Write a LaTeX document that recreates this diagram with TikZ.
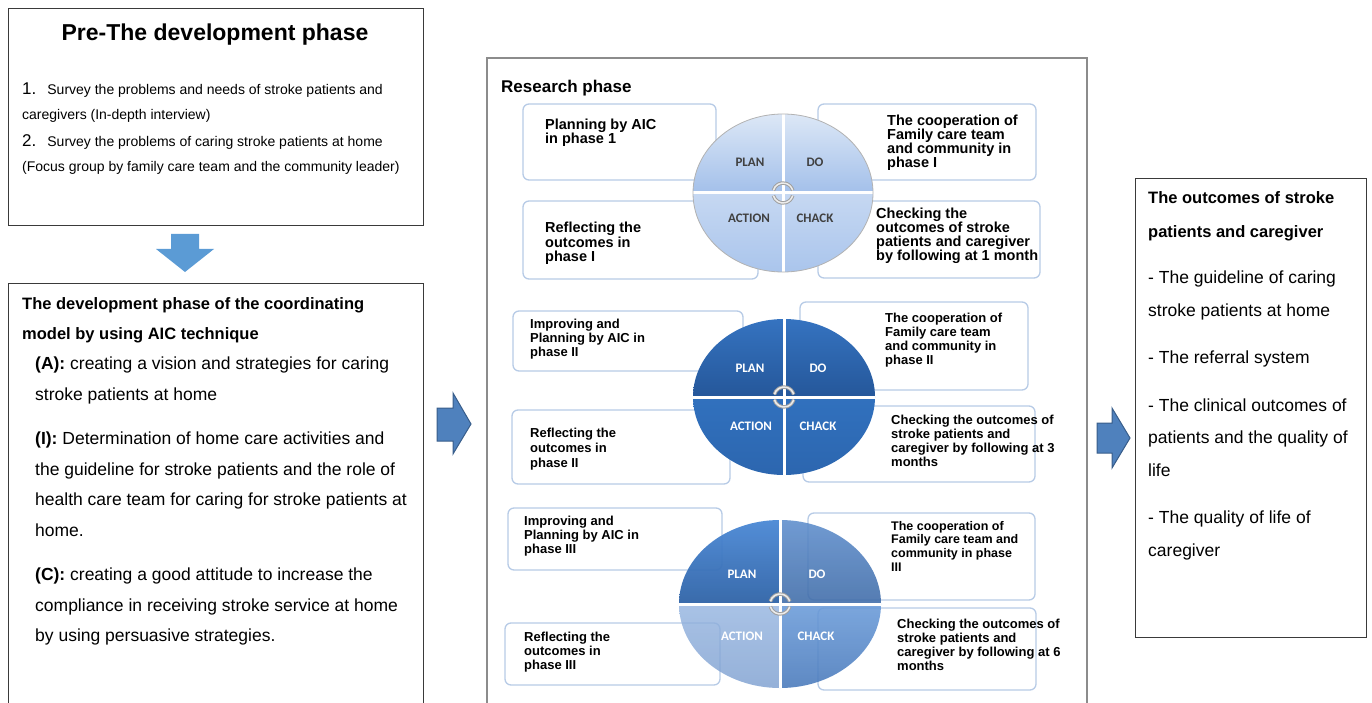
\documentclass[tikz,border=0pt]{standalone}
\usepackage{fontspec}
\setmainfont{Liberation Sans}
\newfontfamily\quadfont{Carlito}
\usetikzlibrary{positioning}

\definecolor{frameline}{HTML}{3A3A3A}
\definecolor{midframe}{HTML}{8C8C8C}
\definecolor{stepedge}{HTML}{B7CBE6}
\definecolor{downblue}{HTML}{5B9BD5}
\definecolor{arrowblue}{HTML}{4F81BD}
\definecolor{arrowedge}{HTML}{385D8A}
% phase I disc
\definecolor{oneTopA}{HTML}{DCE7F6}
\definecolor{oneTopB}{HTML}{A3C0EA}
\definecolor{oneBotA}{HTML}{C6D8F2}
\definecolor{oneBotB}{HTML}{AAC5EC}
% phase II disc
\definecolor{twoTopA}{HTML}{3573C0}
\definecolor{twoTopB}{HTML}{25579A}
\definecolor{twoBotA}{HTML}{3171BE}
\definecolor{twoBotB}{HTML}{2C66AF}
% phase III disc
\definecolor{thrPlanA}{HTML}{4A88D5}
\definecolor{thrPlanB}{HTML}{2E62A6}
\definecolor{thrDoA}{HTML}{5D8DCC}
\definecolor{thrDoB}{HTML}{3D6AA7}
\definecolor{thrActA}{HTML}{93B3DF}
\definecolor{thrActB}{HTML}{7A9DCF}
\definecolor{thrChkA}{HTML}{6A9BD9}
\definecolor{thrChkB}{HTML}{4778BA}

\tikzset{
  frame/.style={draw=frameline, line width=1pt},
  stepbox/.style={draw=stepedge, line width=1.3pt, fill=white, rounded corners=6pt},
  steptext/.style={anchor=north west, inner sep=0pt, align=left,
    font=\bfseries\fontsize{13}{14}\selectfont},
  sidetext/.style={anchor=north west, inner sep=0pt, align=left},
  quadlabel/.style={font=\quadfont\bfseries\fontsize{13}{13}\selectfont, text=white},
  cycicon/.style={draw=gray!75, line width=3.5pt},
  cyciconin/.style={draw=white!85!gray, line width=1.5pt}
}

\begin{document}
\begin{tikzpicture}[x=1pt,y=-1pt]
  \useasboundingbox (0,0) rectangle (1372,703);

  % pre-development box
  \node[frame, anchor=north west, minimum width=415, minimum height=217] (pre) at (8,8) {};
  \node[font=\bfseries\fontsize{23}{28}\selectfont] (pretitle) at (215,35) {Pre-The development phase};
  \node[sidetext, font=\fontsize{14}{24.5}\selectfont] (preitems) at (22,83)
    {{\fontsize{17}{24.5}\selectfont 1.}\hspace{11pt}Survey the problems and needs of stroke patients and\\
     caregivers (In-depth interview)\\[3pt]
     {\fontsize{17}{24.5}\selectfont 2.}\hspace{11pt}Survey the problems of caring stroke patients at home\\
     (Focus group by family care team and the community leader)};

  \fill[downblue] (171,234) -- (199,234) -- (199,249) -- (214,249) -- (185,272)
    -- (156,249) -- (171,249) -- cycle;

  % development phase box
  \draw[frame] (8,704) |- (423,283) -- (423,704);
  \node[sidetext, font=\bfseries\fontsize{16.5}{30.5}\selectfont] (devtitle) at (22,297)
    {The development phase of the coordinating\\model by using AIC technique};
  \node[sidetext, font=\fontsize{17.5}{30.5}\selectfont] (devbody) at (35,357)
    {\textbf{(A):} creating a vision and strategies for caring\\
     stroke patients at home\\[14pt]
     \textbf{(I):} Determination of home care activities and\\
     the guideline for stroke patients and the role of\\
     health care team for caring for stroke patients at\\
     home.\\[14pt]
     \textbf{(C):} creating a good attitude to increase the\\
     compliance in receiving stroke service at home\\
     by using persuasive strategies.};

  \draw[arrowedge, fill=arrowblue, line width=1pt] (437,408) -- (453,408) -- (453,393)
    -- (471,424) -- (453,454) -- (453,441) -- (437,441) -- cycle;

  % research phase box
  \draw[midframe, line width=1.2pt] (487,704) |- (1087,58) -- (1087,704);
  \node[sidetext, font=\bfseries\fontsize{17}{20}\selectfont] (research) at (501,80) {Research phase};

  % phase I
  \draw[stepbox] (523,104) rectangle (716,180);
  \draw[stepbox] (818,104) rectangle (1036,180);
  \draw[stepbox] (523,201) rectangle (758,279);
  \draw[stepbox] (818,201) rectangle (1040,278);
  \begin{scope}
    \clip (783,193) ellipse [x radius=90, y radius=79];
    \shade[top color=oneTopA, bottom color=oneTopB] (693,114) rectangle (873,193);
    \shade[top color=oneBotA, bottom color=oneBotB] (693,193) rectangle (873,272);
    \draw[white, line width=3pt] (783,110) -- (783,274) (690,193) -- (876,193);
  \end{scope}
  \draw[gray!60, line width=0.8pt] (783,193) ellipse [x radius=90, y radius=79];
  \draw[cycicon] (783,193) ++(165:10pt) arc[start angle=165, end angle=15, radius=10pt];
  \draw[cycicon] (783,193) ++(195:10pt) arc[start angle=195, end angle=345, radius=10pt];
  \draw[cyciconin] (783,193) ++(165:10pt) arc[start angle=165, end angle=15, radius=10pt];
  \draw[cyciconin] (783,193) ++(195:10pt) arc[start angle=195, end angle=345, radius=10pt];
  \node[quadlabel, text=black!75] (plan1) at (750,162) {PLAN};
  \node[quadlabel, text=black!75] (do1) at (815,162) {DO};
  \node[quadlabel, text=black!75] (action1) at (749,218) {ACTION};
  \node[quadlabel, text=black!75] (check1) at (815,218) {CHACK};
  \node[steptext, font=\bfseries\fontsize{14.5}{14}\selectfont] (plantext1) at (545,119) {Planning by AIC\\in phase 1};
  \node[steptext, font=\bfseries\fontsize{14.5}{14}\selectfont] (dotext1) at (887,115) {The cooperation of\\Family care team\\and community in\\phase I};
  \node[steptext, font=\bfseries\fontsize{14.5}{14.5}\selectfont] (acttext1) at (545,222) {Reflecting the\\outcomes in\\phase I};
  \node[steptext, font=\bfseries\fontsize{14.5}{14}\selectfont] (chktext1) at (876,208) {Checking the\\outcomes of stroke\\patients and caregiver\\by following at 1 month};

  % phase II
  \draw[stepbox] (513,311) rectangle (743,371);
  \draw[stepbox] (800,302) rectangle (1028,390);
  \draw[stepbox] (512,410) rectangle (730,484);
  \draw[stepbox] (803,406) rectangle (1035,482);
  \begin{scope}
    \clip (784,397) ellipse [x radius=91, y radius=78];
    \shade[top color=twoTopA, bottom color=twoTopB] (693,319) rectangle (875,397);
    \shade[top color=twoBotA, bottom color=twoBotB] (693,397) rectangle (875,475);
    \draw[white, line width=3pt] (784,317) -- (784,477) (690,397) -- (878,397);
  \end{scope}
  \draw[cycicon] (784,397) ++(165:10pt) arc[start angle=165, end angle=15, radius=10pt];
  \draw[cycicon] (784,397) ++(195:10pt) arc[start angle=195, end angle=345, radius=10pt];
  \draw[cyciconin] (784,397) ++(165:10pt) arc[start angle=165, end angle=15, radius=10pt];
  \draw[cyciconin] (784,397) ++(195:10pt) arc[start angle=195, end angle=345, radius=10pt];
  \node[quadlabel] (plan2) at (750,368) {PLAN};
  \node[quadlabel] (do2) at (818,368) {DO};
  \node[quadlabel] (action2) at (751,426) {ACTION};
  \node[quadlabel] (check2) at (818,426) {CHACK};
  \node[steptext] (plantext2) at (530,319) {Improving and\\Planning by AIC in\\phase II};
  \node[steptext] (dotext2) at (885,313) {The cooperation of\\Family care team\\and community in\\phase II};
  \node[steptext, font=\bfseries\fontsize{13}{15}\selectfont] (acttext2) at (530,428) {Reflecting the\\outcomes in\\phase II};
  \node[steptext] (chktext2) at (891,415) {Checking the outcomes of\\stroke patients and\\caregiver by following at 3\\months};

  % phase III
  \draw[stepbox] (508,508) rectangle (722,570);
  \draw[stepbox] (808,513) rectangle (1035,600);
  \draw[stepbox] (505,623) rectangle (720,685);
  \draw[stepbox] (818,608) rectangle (1036,690);
  \begin{scope}
    \clip (780,604) ellipse [x radius=101, y radius=84];
    \shade[top color=thrPlanA, bottom color=thrPlanB, fill opacity=0.95] (679,520) rectangle (780,604);
    \shade[top color=thrDoA, bottom color=thrDoB, fill opacity=0.88] (780,520) rectangle (881,604);
    \shade[top color=thrActA, bottom color=thrActB, fill opacity=0.8] (679,604) rectangle (780,688);
    \shade[top color=thrChkA, bottom color=thrChkB, fill opacity=0.88] (780,604) rectangle (881,688);
    \draw[white, line width=3pt] (780,518) -- (780,690) (676,604) -- (884,604);
  \end{scope}
  \draw[cycicon] (780,604) ++(165:10pt) arc[start angle=165, end angle=15, radius=10pt];
  \draw[cycicon] (780,604) ++(195:10pt) arc[start angle=195, end angle=345, radius=10pt];
  \draw[cyciconin] (780,604) ++(165:10pt) arc[start angle=165, end angle=15, radius=10pt];
  \draw[cyciconin] (780,604) ++(195:10pt) arc[start angle=195, end angle=345, radius=10pt];
  \node[quadlabel] (plan3) at (742,574) {PLAN};
  \node[quadlabel] (do3) at (817,574) {DO};
  \node[quadlabel] (action3) at (742,636) {ACTION};
  \node[quadlabel] (check3) at (816,636) {CHACK};
  \node[steptext] (plantext3) at (524,516) {Improving and\\Planning by AIC in\\phase III};
  \node[steptext, font=\bfseries\fontsize{12.5}{13.7}\selectfont] (dotext3) at (891,521) {The cooperation of\\Family care team and\\community in phase\\III};
  \node[steptext] (acttext3) at (524,632) {Reflecting the\\outcomes in\\phase III};
  \node[steptext] (chktext3) at (897,619) {Checking the outcomes of\\stroke patients and\\caregiver by following at 6\\months};

  \draw[arrowedge, fill=arrowblue, line width=1pt] (1097,423) -- (1112,423) -- (1112,408)
    -- (1130,438) -- (1112,468) -- (1112,453) -- (1097,453) -- cycle;

  % outcomes box
  \node[frame, anchor=north west, minimum width=231, minimum height=459] (outcome) at (1135,178) {};
  \node[sidetext, font=\bfseries\fontsize{16.5}{34}\selectfont] (outtitle) at (1148,191)
    {The outcomes of stroke\\patients and caregiver};
  \node[sidetext, font=\fontsize{17.5}{32.5}\selectfont] (outitems) at (1148,271)
    {- The guideline of caring\\
     stroke patients at home\\[15pt]
     - The referral system\\[15pt]
     - The clinical outcomes of\\
     patients and the quality of\\
     life\\[15pt]
     - The quality of life of\\
     caregiver};
\end{tikzpicture}
\end{document}
